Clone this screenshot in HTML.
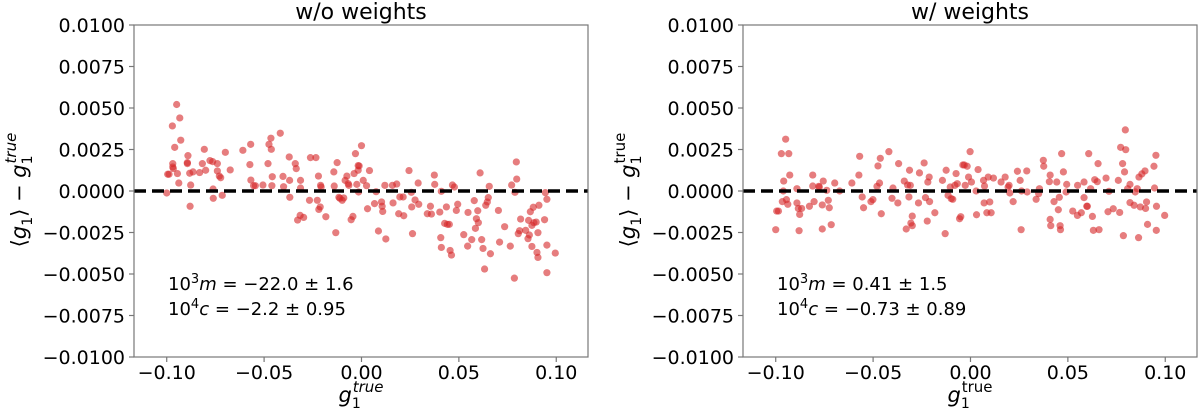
<!DOCTYPE html>
<html><head><meta charset="utf-8">
<style>
html,body{margin:0;padding:0;background:#fff;}
svg{display:block;font-family:"DejaVu Sans","Liberation Sans",sans-serif;}
</style></head>
<body>
<svg id="fig" width="1200" height="417" viewBox="0 0 1200 417" xmlns="http://www.w3.org/2000/svg"></svg>
<script>
// Data: g1 true in units of 1e-3, residual in units of 1e-4
const leftG = [-100,-99.5,-98.8,-97.1,-95.9,-96.9,-96.9,-96.6,-94.9,-93.3,-92.8,-94.5,-93.8,-89.1,-89.4,-89.4,-88.2,-88.0,-87.7,-86.5,-83.1,-81.7,-80.7,-80.0,-77.8,-76.4,-76.2,-76.1,-74.0,-74.0,-73.0,-72.3,-71.5,-69.9,-67.4,-60.9,-57.3,-56.9,-56.8,-55.4,-54.5,-50.6,-48.0,-47.5,-46.5,-46.3,-46.0,-45.8,-41.7,-40.3,-40.0,-37.1,-36.9,-36.8,-34.0,-33.5,-32.8,-31.5,-31.3,-31.3,-29.7,-26.7,-26.2,-23.4,-22.7,-22.1,-21.9,-21.2,-21.0,-20.7,-18.3,-14.2,-14.0,-13.2,-12.5,-11.6,-11.1,-9.9,-9.1,-8.4,-7.5,-6.8,-6.5,-5.3,-4.4,-3.8,-3.1,-2.4,-1.7,-1.7,-1.5,-1.2,0.0,0.9,2.6,3.1,4.1,6.7,7.5,8.7,10.3,10.6,10.9,12.0,12.5,15.9,16.2,18.1,19.1,19.7,21.7,21.4,24.4,25.6,25.8,26.2,27.5,29.1,29.4,33.8,35.4,35.9,37.4,37.6,40.2,40.7,41.0,41.0,42.7,43.6,44.1,45.1,45.5,46.2,46.7,47.7,48.7,49.4,52.5,54.5,54.7,56.6,57.9,58.5,59.0,59.7,60.0,60.9,61.7,62.4,63.2,63.8,64.6,65.1,65.6,66.2,70.3,70.9,73.5,76.4,77.1,78.5,78.8,79.5,79.7,80.5,81.2,81.7,84.3,85.5,85.8,86.2,86.7,87.5,87.5,88.2,88.5,89.7,90.1,90.6,90.6,91.1,94.0,94.4,95.2,95.2,95.2,99.5];
const leftY = [-1.2,10.1,10.1,39.2,26.3,16.5,14.5,13.5,52.1,44.0,30.6,10.5,4.8,21.3,17.1,16.5,10.7,-9.2,3.6,11.5,11.1,16.5,25.1,12.5,18.3,17.7,1.2,-4.4,16.5,12.1,9.0,8.0,-2.6,23.3,12.7,24.5,15.9,28.1,6.6,3.2,3.2,3.6,16.5,28.1,31.8,25.1,3.2,8.6,34.8,8.8,2.6,20.5,6.4,-3.8,16.5,13.5,-17.5,-14.7,1.8,6.4,-15.9,-5.6,20.1,20.1,-5.6,9.0,-11.1,-9.6,3.4,2.4,-15.5,11.5,3.0,-25.1,17.1,-3.8,-4.4,-5.6,-4.2,6.4,9.0,4.4,3.4,-17.3,-15.3,10.5,22.5,4.0,15.3,12.5,-0.6,15.1,27.3,6.4,3.2,-10.7,12.3,-7.6,-0.4,-24.1,-6.6,-9.2,-12.3,3.4,-28.9,3.4,-7.2,4.2,-13.7,-3.6,-14.9,-3.6,12.3,-0.8,-9.6,-25.7,-5.4,4.8,-8.0,-13.7,-9.2,-13.9,9.6,4.0,-12.7,-28.1,-34.0,-0.2,-19.5,-9.6,-20.1,-20.1,-35.8,-38.6,3.6,2.4,-11.7,-8.0,-26.3,-33.2,-12.9,-29.3,-5.8,-22.5,-16.7,-11.9,-19.1,10.9,-29.3,-34.6,-47.0,-8.6,-6.6,-4.0,2.8,-37.8,-11.7,-30.8,-21.5,-33.2,3.6,-52.5,-0.8,17.5,7.2,-25.7,-23.9,-16.9,-23.7,-28.7,-17.7,-26.5,-12.5,-33.4,-20.7,-9.8,-19.1,-18.7,-37.0,-40.0,-25.1,-8.6,-17.3,-1.0,-5.0,-32.6,-49.2,-37.4];
const rightG = [-100,-99.5,-98.6,-97.1,-96.6,-95.9,-96.1,-94.9,-94.5,-93.8,-93.3,-92.8,-89.1,-89.1,-88.4,-88.0,-87.7,-86.7,-82.7,-81.0,-81.0,-80.3,-77.9,-77.6,-76.1,-76.1,-75.6,-73.8,-73.0,-72.5,-71.5,-69.7,-67.2,-60.9,-57.3,-56.9,-55.6,-54.9,-51.1,-50.1,-48.0,-47.5,-46.7,-46.3,-45.8,-41.9,-40.3,-39.8,-37.3,-36.9,-34.0,-33.0,-32.3,-31.6,-31.3,-30.9,-30.6,-29.9,-29.9,-26.7,-26.2,-23.8,-23.1,-22.2,-21.9,-21.2,-21.0,-18.3,-14.4,-13.0,-12.5,-11.5,-10.4,-9.9,-9.1,-8.0,-7.4,-6.8,-5.6,-5.0,-3.9,-3.2,-2.7,-1.7,-1.0,-0.2,0.5,2.9,3.1,3.9,6.7,7.0,7.2,8.4,9.1,9.9,10.6,11.8,15.7,17.8,19.3,19.8,20.2,21.9,24.1,25.5,26.0,26.2,28.9,29.1,33.7,35.0,35.4,37.4,37.6,40.5,40.9,40.9,41.2,42.9,44.3,45.1,45.6,46.0,46.2,46.8,47.7,49.1,49.4,52.5,54.9,55.0,56.9,58.3,58.3,59.7,60.0,60.7,61.7,62.6,63.1,63.8,65.1,65.5,66.0,69.6,70.6,71.1,73.3,75.9,76.6,77.1,78.1,78.5,79.1,79.5,79.7,80.7,81.9,81.9,84.0,84.6,85.6,86.3,86.5,87.2,88.0,89.6,89.9,90.4,90.9,94.2,94.5,95.2,95.4,95.5,99.7];
const rightY = [-23.3,-12.1,-12.1,22.5,-6.4,6.0,0,31.2,-5.2,-8.0,22.5,9.6,1.4,-7.2,-10.5,-23.9,-14.1,-10.5,-9.2,9.6,3.0,-6.4,2.8,2.4,-22.9,-8.4,6.0,0.4,-5.6,-10.1,-20.3,4.8,0,4.8,9.6,20.9,-3.6,-10.1,-6.4,-5.2,2.8,15.1,4.8,19.7,-13.7,23.7,-4.4,1.8,-7.2,16.5,6.0,-22.9,3.6,-3.6,12.5,3.4,-19.3,-15.1,-20.9,-7.2,10.9,16.9,-4.0,-18.1,5.4,8.4,-6.4,-13.1,6.4,-25.7,12.5,-2.6,2.4,-4.6,-5.0,3.4,10.5,4.4,-16.7,-15.5,15.7,15.7,3.4,14.9,8.4,23.7,5.4,0,-14.3,12.9,6.4,-7.2,3.0,-13.1,8.4,-6.6,-13.1,7.8,5.4,8.4,2.4,3.4,-1.2,-6.4,11.9,6.4,-23.3,0,12.1,-0.6,-5.0,-1.6,1.4,18.5,14.9,5.6,9.6,-17.1,-20.9,-6.4,5.4,-11.3,-3.8,-20.9,-23.3,22.5,11.5,-0.6,4.0,-12.1,-14.7,3.4,-13.1,-4.0,5.4,-9.2,-9.2,22.5,1.4,-15.3,-23.7,6.8,5.6,16.5,-23.3,7.8,-12.5,-0.2,-10.7,6.4,-12.9,26.3,16.5,-26.9,11.5,36.8,24.9,1.4,4.0,-7.0,-8.6,-0.6,1.4,-28.1,8.4,-9.6,10.3,12.1,-10.5,-6.6,-20.1,14.9,1.8,21.5,-23.7,-9.2,-14.7];
const xTicks = [-0.10,-0.05,0.00,0.05,0.10];
const xTickLabels = ["\u22120.10","\u22120.05","0.00","0.05","0.10"];
const yTicks = [-0.01,-0.0075,-0.005,-0.0025,0,0.0025,0.005,0.0075,0.01];
const yTickLabels = ["\u22120.0100","\u22120.0075","\u22120.0050","\u22120.0025","0.0000","0.0025","0.0050","0.0075","0.0100"];

const NS = "http://www.w3.org/2000/svg";
const svg = document.getElementById('fig');
function mk(tag, attrs, parent){
  const e = document.createElementNS(NS, tag);
  for (const k in attrs) e.setAttribute(k, attrs[k]);
  (parent||svg).appendChild(e);
  return e;
}
function panel(cfg){
  const X0 = cfg.left, X1 = cfg.right, Y0 = 25, Y1 = 357;
  const xmin = -0.1168, xmax = 0.1163;
  const sx = v => X0 + (v - xmin) / (xmax - xmin) * (X1 - X0);
  const sy = v => Y1 - (v + 0.01) / 0.02 * (Y1 - Y0);
  const g = mk('g', {});
  
  
  const t = mk('text', {x:(X0+X1)/2, y:19, 'text-anchor':'middle', 'font-size':22, fill:'#000'}, g);
  t.textContent = cfg.title;
  
  
  const pts = mk('g', {fill:'#d62728', 'fill-opacity':0.6}, g);
  
  
  for (let i = 0; i < cfg.gs.length; i++) {
    const c = mk('circle', {cx:sx(cfg.gs[i]*1e-3), cy:sy(cfg.ys[i]*1e-4), r:3.6}, pts);
    
    
  }
  const zl = mk('line', {x1:X0, x2:X1, y1:sy(0), y2:sy(0), stroke:'#000', 'stroke-width':3.4, 'stroke-dasharray':'12,6'}, g);
  
  
  const fr = mk('rect', {x:X0, y:Y0, width:X1-X0, height:Y1-Y0, fill:'none', stroke:'#777', 'stroke-width':1.2}, g);
  
  
  xTicks.forEach((v, i) => {
    const x = sx(v);
    const tk = mk('line', {x1:x, x2:x, y1:Y1, y2:Y1+5, stroke:'#777', 'stroke-width':1.2}, g);
    
    
    const lb = mk('text', {x:x, y:379, 'text-anchor':'middle', 'font-size':19, fill:'#000'}, g);
    lb.textContent = xTickLabels[i];
    
    
  });
  yTicks.forEach((v, i) => {
    const y = sy(v);
    const tk = mk('line', {x1:X0-5, x2:X0, y1:y, y2:y, stroke:'#777', 'stroke-width':1.2}, g);
    
    
    const lb = mk('text', {x:X0-9, y:y+7, 'text-anchor':'end', 'font-size':19, fill:'#000'}, g);
    lb.textContent = yTickLabels[i];
    
    
  });
  const xl = mk('text', {x:(X0+X1)/2, y:402, 'text-anchor':'middle', 'font-size':21, fill:'#000'}, g);
  xl.innerHTML = '<tspan font-style="italic">g</tspan><tspan font-size="14" dy="6">1</tspan><tspan font-size="15" dy="-16" dx="-8" ' + (cfg.italicTrue ? 'font-style="italic"' : '') + '>true</tspan>';
  
  
  const yl = mk('text', {x:0, y:0, 'text-anchor':'middle', 'font-size':21, fill:'#000', transform:'translate(' + (X0-108) + ',190) rotate(-90)'}, g);
  yl.innerHTML = '\u27E8<tspan font-style="italic">g</tspan><tspan font-size="14" dy="6">1</tspan><tspan dy="-6">\u27E9 \u2212 </tspan><tspan font-style="italic">g</tspan><tspan font-size="14" dy="6">1</tspan><tspan font-size="15" dy="-16" dx="-8" ' + (cfg.italicTrue ? 'font-style="italic"' : '') + '>true</tspan>';
  
  
  const a1 = mk('text', {x:X0+34, y:290, 'font-size':18, fill:'#000'}, g);
  a1.innerHTML = '10<tspan font-size="13" dy="-7">3</tspan><tspan dy="7" font-style="italic">m</tspan> = ' + cfg.m;
  
  
  const a2 = mk('text', {x:X0+34, y:315, 'font-size':18, fill:'#000'}, g);
  a2.innerHTML = '10<tspan font-size="13" dy="-7">4</tspan><tspan dy="7" font-style="italic">c</tspan> = ' + cfg.c;
  
  
}
panel({name:'panel-without-weights', title:'w/o weights', left:134, right:588, gs:leftG, ys:leftY, italicTrue:true, m:'\u221222.0 \u00B1 1.6', c:'\u22122.2 \u00B1 0.95'});
panel({name:'panel-with-weights', title:'w/ weights', left:743, right:1197, gs:rightG, ys:rightY, italicTrue:false, m:'0.41 \u00B1 1.5', c:'\u22120.73 \u00B1 0.89'});
</script>
</body></html>
